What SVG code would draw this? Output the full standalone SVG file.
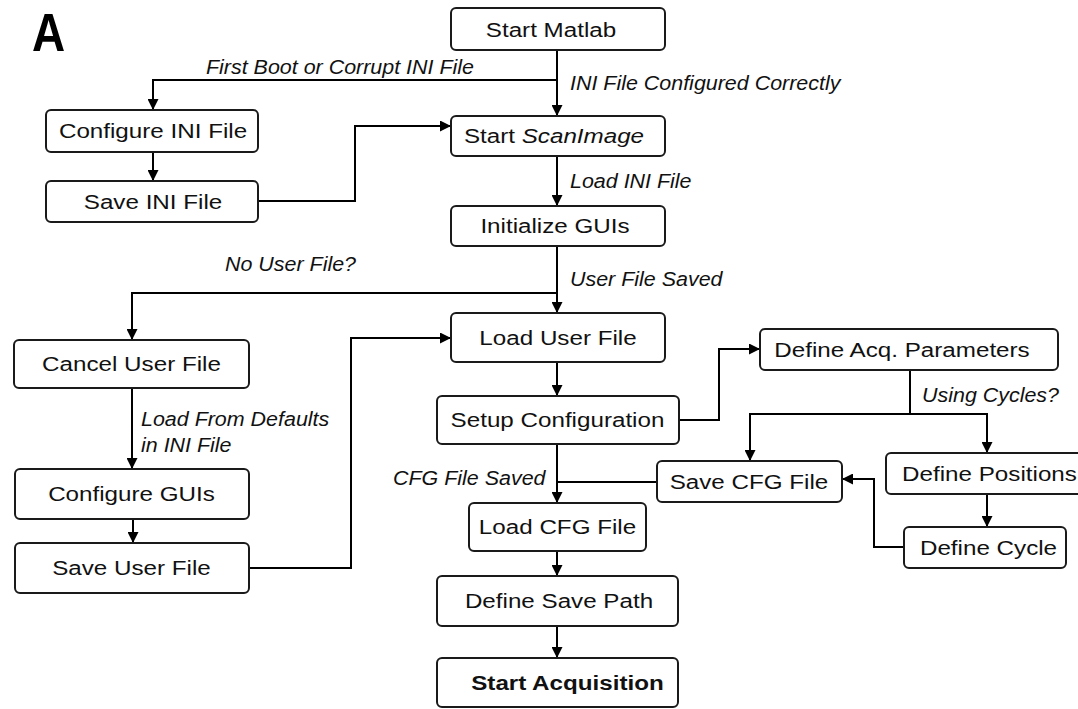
<svg xmlns="http://www.w3.org/2000/svg" width="1078" height="709" viewBox="0 0 1078 709">
<defs>
<marker id="ah" viewBox="0 0 10 10" refX="10" refY="5" markerWidth="11" markerHeight="11" markerUnits="userSpaceOnUse" orient="auto">
<path d="M0,0 L10,5 L0,10 Z" fill="#000"/>
</marker>
</defs>
<style>
.box{fill:#fff;stroke:#1a1a1a;stroke-width:2}
.t{font-family:"Liberation Sans",Arial,sans-serif;font-size:20px;fill:#111;text-anchor:middle}
.lb{font-family:"Liberation Sans",Arial,sans-serif;font-size:19.5px;font-style:italic;fill:#111}
.c{fill:none;stroke:#000;stroke-width:2}
.a{marker-end:url(#ah)}
</style>
<rect width="1078" height="709" fill="#fff"/>
<text transform="translate(32,51) scale(0.85,1)" style="font-family:'Liberation Sans',Arial,sans-serif;font-size:54px;font-weight:bold;fill:#000">A</text>

<g id="connectors">
<path class="c a" d="M557,50 V116"/>
<path class="c a" d="M557,80 H153 V110"/>
<path class="c a" d="M153,152 V181"/>
<path class="c a" d="M258,201 H355 V126 H451"/>
<path class="c a" d="M557,156 V206"/>
<path class="c a" d="M557,246 V313"/>
<path class="c a" d="M557,293 H132 V340"/>
<path class="c a" d="M132,388 V469"/>
<path class="c a" d="M133,519 V543"/>
<path class="c a" d="M249,568 H351 V338 H451"/>
<path class="c a" d="M557,362 V396"/>
<path class="c a" d="M679,420 H719 V349 H760"/>
<path class="c" d="M910,370 V414"/>
<path class="c a" d="M910,414 H750 V461"/>
<path class="c a" d="M910,414 H987 V453"/>
<path class="c a" d="M987,494 V527"/>
<path class="c a" d="M904,547 H874 V479 H842"/>
<path class="c" d="M657,482 H557"/>
<path class="c a" d="M557,444 V503"/>
<path class="c a" d="M557,551 V576"/>
<path class="c a" d="M557,626 V658"/>
<text class="lb" transform="translate(206,74) scale(1.1,1)">First Boot or Corrupt INI File</text>
<text class="lb" transform="translate(570,90) scale(1.1,1)">INI File Configured Correctly</text>
<text class="lb" transform="translate(570,188) scale(1.1,1)">Load INI File</text>
<text class="lb" transform="translate(225,271) scale(1.1,1)">No User File?</text>
<text class="lb" transform="translate(570,286) scale(1.1,1)">User File Saved</text>
<text class="lb" transform="translate(141,426) scale(1.1,1)">Load From Defaults</text>
<text class="lb" transform="translate(141,452) scale(1.1,1)">in INI File</text>
<text class="lb" transform="translate(922,402) scale(1.1,1)">Using Cycles?</text>
<text class="lb" transform="translate(393,485) scale(1.1,1)">CFG File Saved</text>
</g>

<g id="start-matlab"><rect class="box" x="451" y="8" width="214" height="42" rx="5"/><text class="t" transform="translate(551,36.5) scale(1.21,1)">Start Matlab</text></g>
<g id="start-scanimage"><rect class="box" x="451" y="116" width="214" height="40" rx="5"/><text class="t" transform="translate(554,143) scale(1.21,1)">Start <tspan font-style="italic">ScanImage</tspan></text></g>
<g id="initialize-guis"><rect class="box" x="451" y="206" width="214" height="40" rx="5"/><text class="t" transform="translate(555,233) scale(1.21,1)">Initialize GUIs</text></g>
<g id="configure-ini"><rect class="box" x="46" y="110" width="212" height="42" rx="5"/><text class="t" transform="translate(153,138) scale(1.21,1)">Configure INI File</text></g>
<g id="save-ini"><rect class="box" x="46" y="181" width="212" height="41" rx="5"/><text class="t" transform="translate(153,208.5) scale(1.21,1)">Save INI File</text></g>
<g id="load-user-file"><rect class="box" x="451" y="313" width="214" height="49" rx="5"/><text class="t" transform="translate(558,344.5) scale(1.21,1)">Load User File</text></g>
<g id="cancel-user-file"><rect class="box" x="14" y="340" width="235" height="48" rx="5"/><text class="t" transform="translate(131.5,371) scale(1.21,1)">Cancel User File</text></g>
<g id="configure-guis"><rect class="box" x="15" y="469" width="234" height="50" rx="5"/><text class="t" transform="translate(131.5,501) scale(1.21,1)">Configure GUIs</text></g>
<g id="save-user-file"><rect class="box" x="15" y="543" width="234" height="50" rx="5"/><text class="t" transform="translate(131.5,575) scale(1.21,1)">Save User File</text></g>
<g id="setup-configuration"><rect class="box" x="437" y="396" width="242" height="48" rx="5"/><text class="t" transform="translate(557.5,427) scale(1.21,1)">Setup Configuration</text></g>
<g id="define-acq"><rect class="box" x="760" y="329" width="298" height="41" rx="5"/><text class="t" transform="translate(902,356.5) scale(1.21,1)">Define Acq. Parameters</text></g>
<g id="save-cfg"><rect class="box" x="657" y="461" width="185" height="41" rx="5"/><text class="t" transform="translate(749,488.5) scale(1.21,1)">Save CFG File</text></g>
<g id="define-positions"><rect class="box" x="886" y="453" width="200" height="41" rx="5"/><text class="t" transform="translate(989.5,480.5) scale(1.21,1)">Define Positions</text></g>
<g id="define-cycle"><rect class="box" x="904" y="527" width="162" height="41" rx="5"/><text class="t" transform="translate(988.5,554.5) scale(1.21,1)">Define Cycle</text></g>
<g id="load-cfg"><rect class="box" x="469" y="503" width="177" height="48" rx="5"/><text class="t" transform="translate(557.5,534) scale(1.21,1)">Load CFG File</text></g>
<g id="define-save-path"><rect class="box" x="437" y="576" width="241" height="50" rx="5"/><text class="t" transform="translate(559,608) scale(1.21,1)">Define Save Path</text></g>
<g id="start-acquisition"><rect class="box" x="437" y="658" width="241" height="49" rx="5"/><text class="t" transform="translate(567.5,690) scale(1.21,1)" font-weight="bold">Start Acquisition</text></g>
</svg>
